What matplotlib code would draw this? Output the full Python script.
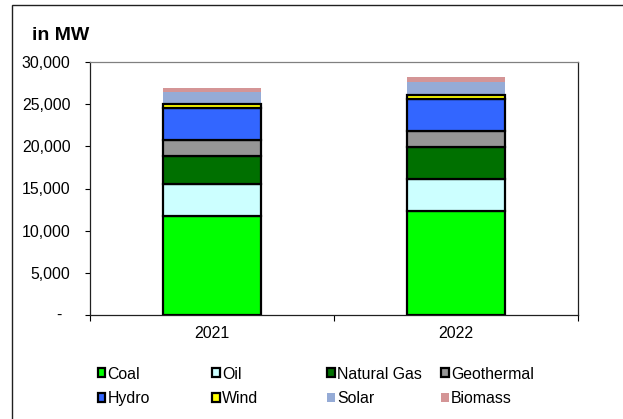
import matplotlib
matplotlib.use("Agg")
import matplotlib.pyplot as plt
from matplotlib.patches import Patch, Rectangle
from matplotlib.ticker import FuncFormatter, FixedLocator
import numpy as np

plt.rcParams['font.family'] = ['Liberation Sans', 'DejaVu Sans']

years = ['2021', '2022']
sources = ['Coal', 'Oil', 'Natural Gas', 'Geothermal', 'Hydro', 'Wind', 'Solar', 'Biomass']
coal = [11700, 12330]
oil = [3800, 3830]
natural_gas = [3350, 3800]
geothermal = [1950, 1900]
hydro = [3800, 3800]
wind = [400, 400]
solar = [1400, 1550]
biomass = [500, 650]
series = [coal, oil, natural_gas, geothermal, hydro, wind, solar, biomass]
colors = ['#00FF00', '#CCFFFF', '#007000', '#969696', '#3366FF', '#FFFF00', '#95ABD6', '#D49596']
edged = [True, True, True, True, True, True, False, False]

FS = 11.4

fig = plt.figure(figsize=(6.23, 4.19), dpi=100)
ax = fig.add_axes([90/623, 1-315/419, (578-90)/623, (315-62)/419])

x = np.arange(len(years))
bottom = np.zeros(len(years))
for vals, c, e in zip(series, colors, edged):
    v = np.array(vals, dtype=float)
    if e:
        ax.bar(x, v, 0.40, bottom=bottom, color=c, edgecolor='black', linewidth=1.6, zorder=3)
    else:
        ax.bar(x, v, 0.40, bottom=bottom, color=c, edgecolor='none', linewidth=0, zorder=2)
    bottom += v

ax.set_xlim(-0.5, 1.5)
ax.set_ylim(0, 30000)
ax.set_yticks(np.arange(0, 30001, 5000))
ax.yaxis.set_major_formatter(FuncFormatter(lambda v, p: '' if v == 0 else f'{int(v):,}'))
ax.annotate('-', xy=(0, 0), xycoords=('axes fraction', 'data'), xytext=(-28, 0),
            textcoords='offset pixels', ha='right', va='center', fontsize=FS)
ax.tick_params(axis='y', direction='out', length=3.6, width=0.8, pad=10.5, labelsize=FS)
ax.set_xticks(x)
ax.set_xticklabels(years)
ax.tick_params(axis='x', which='major', length=0, pad=8, labelsize=FS)
ax.xaxis.set_minor_locator(FixedLocator([-0.5, 0.5, 1.5]))
ax.tick_params(axis='x', which='minor', direction='out', length=4, width=0.8)
for s in ['left', 'bottom', 'right']:
    ax.spines[s].set_color('#202020')
    ax.spines[s].set_linewidth(0.9)
ax.spines['top'].set_color('#808080')
ax.spines['top'].set_linewidth(0.9)

fig.text(32/623, 1-39.5/419, 'in MW', fontsize=14, fontweight='bold', ha='left', va='baseline')

# outer chart border
fig.patches.append(Rectangle((12/623, -0.05), 1.1, 0.05 + 1-5/419, transform=fig.transFigure,
                             fill=False, edgecolor='#202020', linewidth=1.0))

# legend: 4 columns, each its own legend for equal column spacing
handles = []
for s, c, e in zip(sources, colors, edged):
    if e:
        handles.append(Patch(facecolor=c, edgecolor='black', linewidth=1.6, label=s))
    else:
        handles.append(Patch(facecolor=c, edgecolor='none', label=s))
col_x = [97.5, 212, 327, 441]
for i in range(4):
    hs = [handles[i], handles[i+4]]
    fig.legend(handles=hs, loc='center left', bbox_to_anchor=(col_x[i]/623, 1-386.5/419),
               frameon=False, fontsize=FS, handlelength=0.5, handleheight=0.5,
               handletextpad=0.12, labelspacing=0.62, borderpad=0, borderaxespad=0)

fig.savefig('out.png', dpi=100)
